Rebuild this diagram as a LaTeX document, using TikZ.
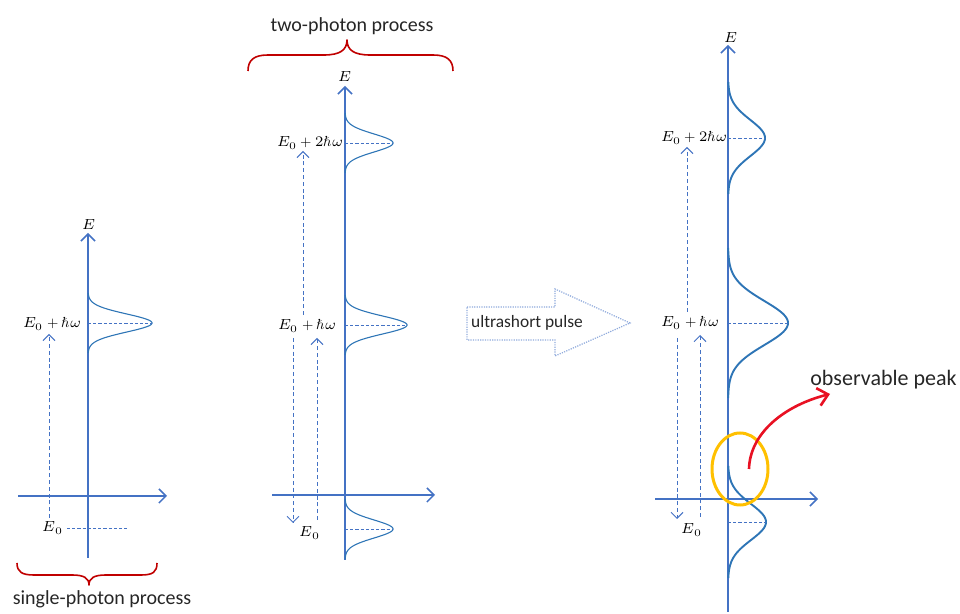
\documentclass[tikz,border=0pt]{standalone}
\usepackage{fontspec}
\usepackage{unicode-math}
\setmainfont{Carlito}
\setmathfont{Latin Modern Math}
\usetikzlibrary{arrows.meta,shapes.geometric}
\definecolor{axisblue}{RGB}{68,114,196}
\definecolor{curveblue}{RGB}{46,117,182}
\definecolor{bracered}{RGB}{192,0,0}
\definecolor{arrowred}{RGB}{232,17,35}
\definecolor{ringorange}{RGB}{255,192,0}
\definecolor{txtgray}{RGB}{38,38,38}
\definecolor{dotblue}{RGB}{143,170,220}
\newcommand\gpeak[6]{\draw[#6] plot[domain=-#5:#5, samples=90, smooth] ({#1+#3*exp(-(\x*\x)/(2*#4*#4))},{#2+\x});
  \draw[hdash] (#1,#2) -- (#1+#3,#2);}
\begin{document}
\begin{tikzpicture}[x=0.5pt,y=-0.5pt,
  axisline/.style={draw=axisblue, line width=0.75pt, -{Straight Barb[length=3.5pt,width=7pt]}},
  curvethin/.style={draw=curveblue, line width=0.55pt},
  curvethick/.style={draw=curveblue, line width=0.95pt},
  hdash/.style={draw=axisblue, line width=0.45pt, dash pattern=on 1.6pt off 1pt},
  vdash/.style={draw=axisblue, line width=0.5pt, dash pattern=on 2pt off 1.4pt},
  vdarrow/.style={vdash, -{Straight Barb[length=3pt,width=6pt]}},
  mlabel/.style={inner sep=0pt, font=\fontsize{7.3}{9}\selectfont},
  caption/.style={inner sep=0pt, text=txtgray, font=\fontsize{10}{12}\selectfont},
  brace/.style={draw=bracered, line width=0.8pt, line join=round}
]
\useasboundingbox (0,0) rectangle (960,614);

% ---------- left: single-photon ----------
\draw[axisline] (18,496) -- (167,496);
\draw[axisline] (88,558) -- (88,233);
\node[mlabel] (lE) at (89,225) {$E$};
\gpeak{88}{323}{64}{9}{30}{curvethin}
\node[mlabel, anchor=east] (lE1) at (81,324) {$E_0+\hbar\omega$};
\node[mlabel] (lE0) at (53,528) {$E_0$};
\draw[hdash] (67,528) -- (128,528);
\draw[vdarrow] (49,518) -- (49,334);
\draw[brace] (17,563) .. controls (17,572) and (22,575) .. (34,575) -- (72,575)
  .. controls (84,575) and (89,578) .. (89,585)
  .. controls (89,578) and (94,575) .. (106,575) -- (141,575)
  .. controls (153,575) and (157,572) .. (157,563);
\node[caption] (lcap) at (102,599) {single-photon process};

% ---------- middle: two-photon ----------
\draw[axisline] (272,495) -- (435,495);
\draw[axisline] (345,560) -- (345,86);
\node[mlabel] (mE) at (345,77) {$E$};
\gpeak{345}{143}{48}{9}{30}{curvethin}
\gpeak{345}{325}{62}{9}{30}{curvethin}
\gpeak{345}{529}{48}{9}{30}{curvethin}
\node[mlabel, anchor=east] (mE2) at (343,143) {$E_0+2\hbar\omega$};
\node[mlabel, anchor=east] (mE1) at (336,326) {$E_0+\hbar\omega$};
\node[mlabel] (mE0) at (310,533) {$E_0$};
\draw[vdarrow] (303,315) -- (303,151);
\draw[vdarrow] (293,338) -- (293,523);
\draw[vdarrow] (317,520) -- (317,338);
\draw[brace] (248,71) .. controls (248,60) and (254,55) .. (268,55) -- (324,55)
  .. controls (340,55) and (347,50) .. (347,40)
  .. controls (347,50) and (354,55) .. (370,55) -- (433,55)
  .. controls (447,55) and (453,60) .. (453,71);
\node[caption] (mcap) at (352,26) {two-photon process};

% ---------- block arrow ----------
\draw[draw=dotblue, line width=0.6pt, dash pattern=on 0.6pt off 0.6pt]
  (467,307) -- (555,307) -- (555,289) -- (630,323) -- (555,356) -- (555,340) -- (467,340) -- cycle;
\node[inner sep=0pt, text=txtgray, font=\fontsize{8.7}{10}\selectfont] (pulse) at (527,323) {ultrashort pulse};

% ---------- right: ultrashort pulse ----------
\draw[axisline] (655,499) -- (818,499);
\draw[axisline] (728,612) -- (728,45);
\node[mlabel] (rE) at (731,38) {$E$};
\gpeak{728}{138}{37}{18}{56}{curvethick}
\gpeak{728}{323}{60}{22}{75}{curvethick}
\gpeak{728}{522}{38}{18}{56}{curvethick}
\node[mlabel, anchor=east] (rE2) at (727,138) {$E_0+2\hbar\omega$};
\node[mlabel, anchor=east] (rE1) at (719,323) {$E_0+\hbar\omega$};
\node[mlabel] (rE0) at (692,530) {$E_0$};
\draw[vdarrow] (687,312) -- (687,147);
\draw[vdarrow] (677,338) -- (677,519);
\draw[vdarrow] (700,517) -- (700,335);

\node[draw=ringorange, line width=1.5pt, ellipse, minimum width=28pt, minimum height=36pt, inner sep=0pt] (ring) at (740,469) {};
\coordinate (rstart) at (749,469);
\coordinate (rend) at (830,394);
\draw[draw=arrowred, line width=1.3pt, -{Straight Barb[length=5pt,width=9pt]}]
  (rstart) .. controls (750,432) and (786,405) .. (rend);
\node[inner sep=0pt, anchor=west, text=txtgray, font=\fontsize{11}{13}\selectfont] (obs) at (810,380) {observable peak};
\end{tikzpicture}
\end{document}
